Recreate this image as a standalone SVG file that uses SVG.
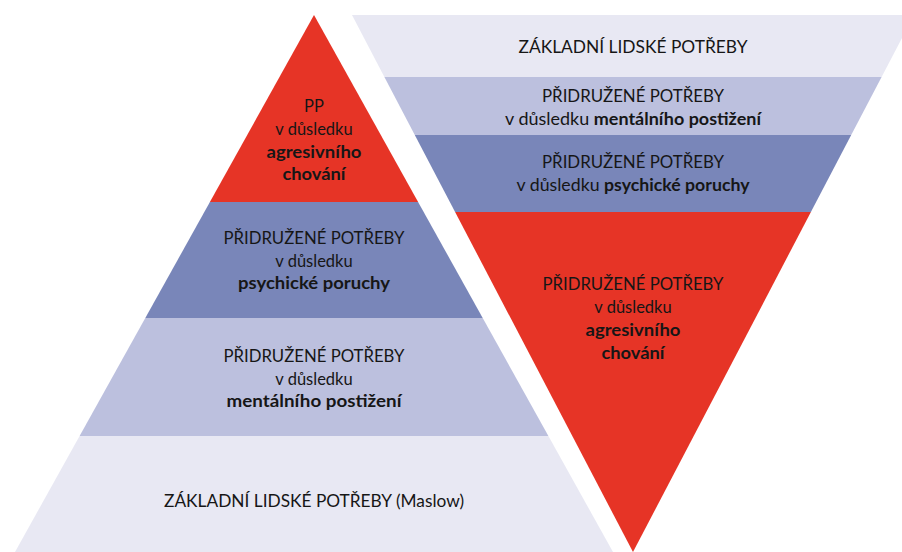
<svg xmlns="http://www.w3.org/2000/svg" width="902" height="552" viewBox="0 0 902 552">
<style>
.t{font-family:Lato,"Liberation Sans",sans-serif;font-size:16.5px;fill:#161616;text-anchor:middle}
.b{font-weight:bold}
.red{fill:#E63426}
.pur{fill:#7986B9}
.lav{fill:#BCC0DE}
.lt{fill:#E8E8F3}
</style>
<rect width="902" height="552" fill="#FFFFFF"/>
<g id="pyramid">
<g id="p-base">
<polygon class="lt" points="79.6,436 548.4,436 613,552 15,552"/>
<text class="t" x="314" y="507" textLength="300" lengthAdjust="spacingAndGlyphs">ZÁKLADNÍ LIDSKÉ POTŘEBY (Maslow)</text>
</g>
<g id="p-mental">
<polygon class="lav" points="145.3,318 482.7,318 548.4,436 79.6,436"/>
<text class="t" x="314" y="362" textLength="181" lengthAdjust="spacingAndGlyphs">PŘIDRUŽENÉ POTŘEBY</text>
<text class="t" x="314" y="384.5">v důsledku</text>
<text class="t b" x="314" y="407" textLength="175" lengthAdjust="spacingAndGlyphs">mentálního postižení</text>
</g>
<g id="p-psych">
<polygon class="pur" points="209.9,202 418.1,202 482.7,318 145.3,318"/>
<text class="t" x="314" y="244" textLength="181" lengthAdjust="spacingAndGlyphs">PŘIDRUŽENÉ POTŘEBY</text>
<text class="t" x="314" y="266.5">v důsledku</text>
<text class="t b" x="314" y="289" textLength="152" lengthAdjust="spacingAndGlyphs">psychické poruchy</text>
</g>
<g id="p-aggr">
<polygon class="red" points="314,15 418.1,202 209.9,202"/>
<text class="t" x="314" y="112">PP</text>
<text class="t" x="314" y="135">v důsledku</text>
<text class="t b" x="314" y="157.5" textLength="95" lengthAdjust="spacingAndGlyphs">agresivního</text>
<text class="t b" x="314" y="180" textLength="63" lengthAdjust="spacingAndGlyphs">chování</text>
</g>
</g>
<g id="inverted">
<g id="i-base">
<polygon class="lt" points="352,15 914,15 881.6,77 384.4,77"/>
<text class="t" x="633" y="53" textLength="229" lengthAdjust="spacingAndGlyphs">ZÁKLADNÍ LIDSKÉ POTŘEBY</text>
</g>
<g id="i-mental">
<polygon class="lav" points="384.4,77 881.6,77 851.2,135 414.8,135"/>
<text class="t" x="633" y="101.5" textLength="182" lengthAdjust="spacingAndGlyphs">PŘIDRUŽENÉ POTŘEBY</text>
<text class="t" x="633" y="124.5" textLength="256" lengthAdjust="spacingAndGlyphs">v důsledku <tspan class="b">mentálního postižení</tspan></text>
</g>
<g id="i-psych">
<polygon class="pur" points="414.8,135 851.2,135 810.9,212 455.1,212"/>
<text class="t" x="633" y="168" textLength="182" lengthAdjust="spacingAndGlyphs">PŘIDRUŽENÉ POTŘEBY</text>
<text class="t" x="633" y="190.5" textLength="233" lengthAdjust="spacingAndGlyphs">v důsledku <tspan class="b">psychické poruchy</tspan></text>
</g>
<g id="i-aggr">
<polygon class="red" points="455.1,212 810.9,212 633,552"/>
<text class="t" x="633" y="290" textLength="181" lengthAdjust="spacingAndGlyphs">PŘIDRUŽENÉ POTŘEBY</text>
<text class="t" x="633" y="313">v důsledku</text>
<text class="t b" x="633" y="336" textLength="95" lengthAdjust="spacingAndGlyphs">agresivního</text>
<text class="t b" x="633" y="358.5" textLength="63" lengthAdjust="spacingAndGlyphs">chování</text>
</g>
</g>
<g id="connectors"></g>
</svg>
